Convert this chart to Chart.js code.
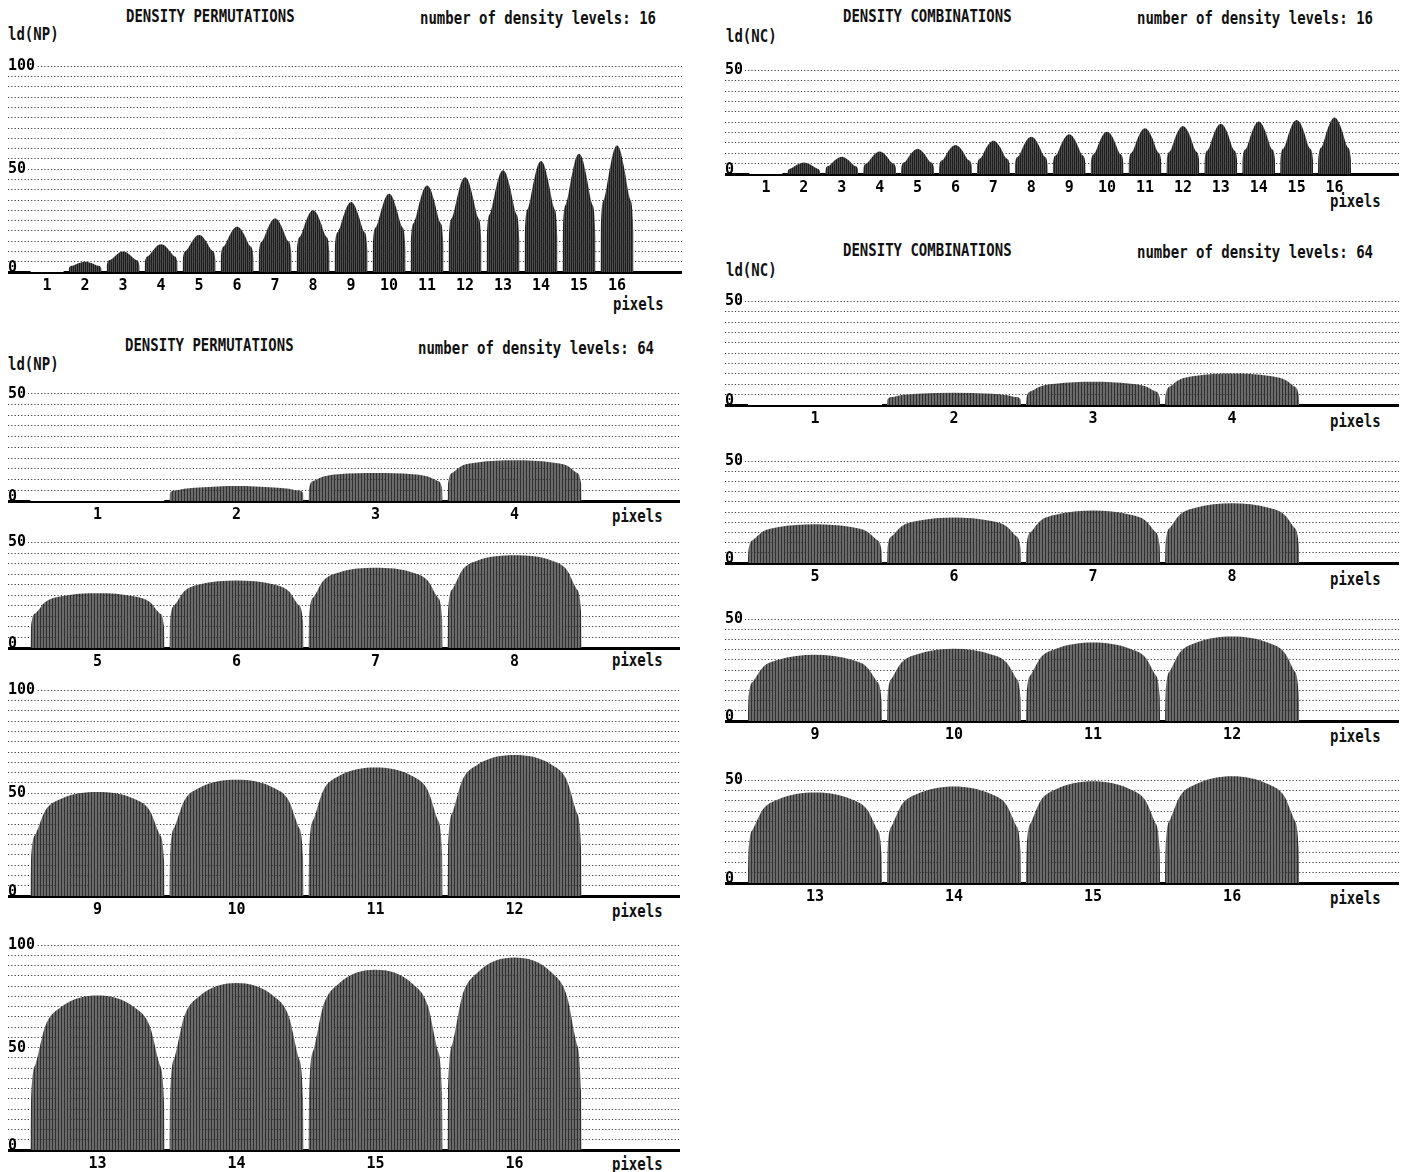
<!DOCTYPE html>
<html>
<head>
<meta charset="utf-8">
<script src="https://cdn.jsdelivr.net/npm/chart.js@4.4.0/dist/chart.umd.min.js"></script>
<style>
  body { margin: 0; background: #fff; width: 1404px; height: 1172px; position: relative; overflow: hidden; }
  .t { position: absolute; font: bold 14px 'DejaVu Sans Mono', monospace; line-height: 16px; white-space: pre; color: #111; transform: scaleY(1.2); }
  canvas { position: absolute; }
</style>
</head>
<body>
<!-- titres -->
<div class="t" style="left:126px;top:8px">DENSITY PERMUTATIONS</div>
<div class="t" style="left:420px;top:10px">number of density levels: 16</div>
<div class="t" style="left:8px;top:26px">ld(NP)</div>
<div class="t" style="left:613px;top:296px">pixels</div>

<div class="t" style="left:843px;top:8px">DENSITY COMBINATIONS</div>
<div class="t" style="left:1137px;top:10px">number of density levels: 16</div>
<div class="t" style="left:726px;top:28px">ld(NC)</div>
<div class="t" style="left:1330px;top:193px">pixels</div>

<div class="t" style="left:125px;top:337px">DENSITY PERMUTATIONS</div>
<div class="t" style="left:418px;top:340px">number of density levels: 64</div>
<div class="t" style="left:8px;top:356px">ld(NP)</div>
<div class="t" style="left:612px;top:508px">pixels</div>
<div class="t" style="left:612px;top:652px">pixels</div>
<div class="t" style="left:612px;top:903px">pixels</div>
<div class="t" style="left:612px;top:1156px">pixels</div>

<div class="t" style="left:843px;top:242px">DENSITY COMBINATIONS</div>
<div class="t" style="left:1137px;top:244px">number of density levels: 64</div>
<div class="t" style="left:726px;top:262px">ld(NC)</div>
<div class="t" style="left:1330px;top:413px">pixels</div>
<div class="t" style="left:1330px;top:571px">pixels</div>
<div class="t" style="left:1330px;top:728px">pixels</div>
<div class="t" style="left:1330px;top:890px">pixels</div>

<script>
// pixels (catégories de l'axe x)
var pixels = [1, 2, 3, 4, 5, 6, 7, 8, 9, 10, 11, 12, 13, 14, 15, 16];
// étiquettes de l'axe y
var yLabels = [0, 50, 100];

// positions relatives des échantillons dans la plage d'un pixel (0 = début, 1 = fin)
var sampleT16 = [0, 0.005, 0.1, 0.29, 0.4, 0.5, 0.6, 0.71, 0.9, 0.995, 1];
var sampleT64 = [0, 0.004, 0.04, 0.11, 0.22, 0.5, 0.78, 0.89, 0.96, 0.996, 1];

// ld(NP), 16 niveaux de densité
var np16 = [
  [0, 0, 0, 0, 0, 0, 0, 0, 0, 0, 0],
  [0, 1.5, 3, 4.3, 4.8, 5, 4.8, 4.3, 3, 1.5, 0],
  [0, 3, 5.8, 8.3, 9.6, 10, 9.6, 8.3, 5.8, 3, 0],
  [0, 4.2, 7.7, 11.2, 13, 13.5, 13, 11.2, 7.7, 4.2, 0],
  [0, 5.6, 10.3, 14.9, 17.3, 18, 17.3, 14.9, 10.3, 5.6, 0],
  [0, 6.8, 12.5, 18.3, 21.1, 22, 21.1, 18.3, 12.5, 6.8, 0],
  [0, 8.1, 14.8, 21.6, 25, 26, 25, 21.6, 14.8, 8.1, 0],
  [0, 9.3, 17.1, 24.9, 28.8, 30, 28.8, 24.9, 17.1, 9.3, 0],
  [0, 10.5, 19.4, 28.2, 32.6, 34, 32.6, 28.2, 19.4, 10.5, 0],
  [0, 11.8, 21.7, 31.5, 36.5, 38, 36.5, 31.5, 21.7, 11.8, 0],
  [0, 13, 23.9, 34.9, 40.3, 42, 40.3, 34.9, 23.9, 13, 0],
  [0, 14.3, 26.2, 38.2, 44.2, 46, 44.2, 38.2, 26.2, 14.3, 0],
  [0, 15.3, 28.2, 41.1, 47.5, 49.5, 47.5, 41.1, 28.2, 15.3, 0],
  [0, 16.7, 30.8, 44.8, 51.8, 54, 51.8, 44.8, 30.8, 16.7, 0],
  [0, 17.8, 32.8, 47.7, 55.2, 57.5, 55.2, 47.7, 32.8, 17.8, 0],
  [0, 19.1, 35.1, 51, 59, 61.5, 59, 51, 35.1, 19.1, 0]
];

// ld(NC), 16 niveaux de densité
var nc16 = [
  [0, 0, 0, 0, 0, 0, 0, 0, 0, 0, 0],
  [0, 1, 2.7, 4.5, 5.2, 5.5, 5.2, 4.5, 2.7, 1, 0],
  [0, 2.1, 3.9, 6.6, 7.9, 8.3, 7.9, 6.6, 3.9, 2.1, 0],
  [0, 2.7, 5.1, 8.6, 10.3, 10.8, 10.3, 8.6, 5.1, 2.7, 0],
  [0, 3, 5.7, 9.7, 11.5, 12.1, 11.5, 9.7, 5.7, 3, 0],
  [0, 3.5, 6.6, 11.2, 13.3, 14, 13.3, 11.2, 6.6, 3.5, 0],
  [0, 4, 7.5, 12.8, 15.2, 16, 15.2, 12.8, 7.5, 4, 0],
  [0, 4.5, 8.5, 14.4, 17.1, 18, 17.1, 14.4, 8.5, 4.5, 0],
  [0, 4.8, 9, 15.4, 18.2, 19.2, 18.2, 15.4, 9, 4.8, 0],
  [0, 5.1, 9.6, 16.3, 19.4, 20.4, 19.4, 16.3, 9.6, 5.1, 0],
  [0, 5.5, 10.4, 17.7, 21, 22.1, 21, 17.7, 10.4, 5.5, 0],
  [0, 5.8, 10.9, 18.6, 22, 23.2, 22, 18.6, 10.9, 5.8, 0],
  [0, 6.1, 11.4, 19.4, 23, 24.2, 23, 19.4, 11.4, 6.1, 0],
  [0, 6.3, 11.9, 20.2, 24, 25.3, 24, 20.2, 11.9, 6.3, 0],
  [0, 6.5, 12.3, 20.9, 24.8, 26.1, 24.8, 20.9, 12.3, 6.5, 0],
  [0, 6.8, 12.8, 21.8, 25.8, 27.2, 25.8, 21.8, 12.8, 6.8, 0]
];

// ld(NP), 64 niveaux de densité
var np64 = [
  [0, 0, 0, 0, 0, 0, 0, 0, 0, 0, 0],
  [0, 3.9, 4.9, 5.7, 6.3, 7, 6.3, 5.7, 4.9, 3.9, 0],
  [0, 5.9, 9.4, 11.4, 12.5, 13, 12.5, 11.4, 9.4, 5.9, 0],
  [0, 8, 13.3, 16.5, 18, 19, 18, 16.5, 13.3, 8, 0],
  [0, 9.9, 16.6, 21.8, 24.4, 26, 24.4, 21.8, 16.6, 9.9, 0],
  [0, 12.2, 20.5, 26.9, 30.1, 32, 30.1, 26.9, 20.5, 12.2, 0],
  [0, 14.4, 24.3, 31.9, 35.7, 38, 35.7, 31.9, 24.3, 14.4, 0],
  [0, 16.7, 28.2, 37, 41.4, 44, 41.4, 37, 28.2, 16.7, 0],
  [0, 16.7, 30.3, 41.4, 47, 50.5, 47, 41.4, 30.3, 16.7, 0],
  [0, 18.6, 33.9, 46.3, 52.5, 56.5, 52.5, 46.3, 33.9, 18.6, 0],
  [0, 20.6, 37.5, 51.3, 58.1, 62.5, 58.1, 51.3, 37.5, 20.6, 0],
  [0, 22.6, 41.1, 56.2, 63.7, 68.5, 63.7, 56.2, 41.1, 22.6, 0],
  [0, 22.7, 42.3, 60.4, 69.5, 75.5, 69.5, 60.4, 42.3, 22.7, 0],
  [0, 24.5, 45.6, 65.2, 75, 81.5, 75, 65.2, 45.6, 24.5, 0],
  [0, 26.4, 49.3, 70.4, 81, 88, 81, 70.4, 49.3, 26.4, 0],
  [0, 28.2, 52.6, 75.2, 86.5, 94, 86.5, 75.2, 52.6, 28.2, 0]
];

// ld(NC), 64 niveaux de densité
var nc64 = [
  [0, 0, 0, 0, 0, 0, 0, 0, 0, 0, 0],
  [0, 2.7, 3.8, 4.8, 5.4, 5.9, 5.4, 4.8, 3.8, 2.7, 0],
  [0, 3.6, 6.7, 9.1, 10.3, 11.2, 10.3, 9.1, 6.7, 3.6, 0],
  [0, 4.9, 9.1, 12.3, 14, 15.2, 14, 12.3, 9.1, 4.9, 0],
  [0, 6.1, 11.4, 15.4, 17.5, 19, 17.5, 15.4, 11.4, 6.1, 0],
  [0, 7.2, 13.4, 18.1, 20.6, 22.4, 20.6, 18.1, 13.4, 7.2, 0],
  [0, 8.3, 15.5, 20.9, 23.7, 25.8, 23.7, 20.9, 15.5, 8.3, 0],
  [0, 9.4, 17.6, 23.7, 27, 29.3, 27, 23.7, 17.6, 9.4, 0],
  [0, 10.4, 19.5, 26.3, 29.9, 32.5, 29.9, 26.3, 19.5, 10.4, 0],
  [0, 11.4, 21.3, 28.8, 32.7, 35.5, 32.7, 28.8, 21.3, 11.4, 0],
  [0, 12.3, 23.1, 31.2, 35.4, 38.5, 35.4, 31.2, 23.1, 12.3, 0],
  [0, 13.3, 24.9, 33.6, 38.2, 41.5, 38.2, 33.6, 24.9, 13.3, 0],
  [0, 14.1, 26.4, 35.6, 40.5, 44, 40.5, 35.6, 26.4, 14.1, 0],
  [0, 15, 28.2, 38.1, 43.2, 47, 43.2, 38.1, 28.2, 15, 0],
  [0, 15.8, 29.7, 40.1, 45.5, 49.5, 45.5, 40.1, 29.7, 15.8, 0],
  [0, 16.6, 31.2, 42.1, 47.8, 52, 47.8, 42.1, 31.2, 16.6, 0]
];

// maximum de la grille y pour chaque sous-graphique à 64 niveaux
var npMax64 = [50, 50, 100, 100];
var ncMax64 = [50, 50, 50, 50];

Chart.defaults.font.family = "'DejaVu Sans Mono', monospace";

// motif de rayures verticales (trame d'imprimante)
function stripes(light, dark, period) {
  var c = document.createElement('canvas');
  c.width = period; c.height = 1;
  var g = c.getContext('2d');
  g.fillStyle = light; g.fillRect(0, 0, period, 1);
  g.fillStyle = dark; g.fillRect(period - 1, 0, 1, 1);
  return g.createPattern(c, 'repeat');
}
var fillDark = stripes('#4c4c4c', '#1e1e1e', 2);
var fillMid = stripes('#6a6a6a', '#303030', 3);

var tickFont = { family: "'DejaVu Sans Mono', monospace", size: 15, weight: 'bold' };

// zones de tracé (gauche, haut = ligne du max de la grille, droite, bas = ligne 0) en pixels de page
var panels = [
  { rows: np16, first: 1, t: sampleT16, span: 0.87, yMax: 100, xMin: -0.03, xMax: 17.71, box: [8, 66, 682, 272], fill: fillDark },
  { rows: nc16, first: 1, t: sampleT16, span: 0.87, yMax: 50, xMin: -0.08, xMax: 17.70, box: [725, 70, 1399, 174], fill: fillDark }
];
var npBoxes = [[8, 394, 680, 501], [8, 542, 680, 647], [8, 690, 680, 896], [8, 945, 680, 1150]];
var ncBoxes = [[725, 301, 1399, 405], [725, 461, 1399, 563], [725, 619, 1399, 721], [725, 780, 1399, 883]];
for (var k = 0; k < 4; k++) {
  panels.push({ rows: np64.slice(4 * k, 4 * k + 4), first: 4 * k + 1, t: sampleT64, span: 0.965, yMax: npMax64[k],
    xMin: 4 * k + 0.356, xMax: 4 * k + 5.19, box: npBoxes[k], fill: fillMid });
  panels.push({ rows: nc64.slice(4 * k, 4 * k + 4), first: 4 * k + 1, t: sampleT64, span: 0.965, yMax: ncMax64[k],
    xMin: 4 * k + 0.353, xMax: 4 * k + 5.20, box: ncBoxes[k], fill: fillMid });
}

function drawPanel(p) {
  var cv = document.createElement('canvas');
  document.body.appendChild(cv);
  // marge au-dessus de la grille pour que les bosses qui dépassent ne soient pas coupées
  var yTop = p.yMax + 5;
  var pxPerUnit = (p.box[3] - p.box[1]) / p.yMax;
  var top = p.box[1] - 5 * pxPerUnit;
  var w = p.box[2] - p.box[0];
  var h = p.box[3] - top;
  cv.width = w + 60;
  cv.height = h + 60;
  var labels = pixels.slice(p.first - 1, p.first - 1 + p.rows.length);

  var datasets = [];
  p.rows.forEach(function (vals, i) {
    var n = p.first + i;
    var pts = vals.map(function (v, j) {
      return { x: n + (p.t[j] - 0.5) * p.span, y: v };
    });
    if (n === 1) {
      // un seul pixel : ligne plate grise à zéro, sans la ligne de base noire
      datasets.push({ data: pts, borderColor: '#fff', borderWidth: 4, fill: false, pointRadius: 0 });
      datasets.push({ data: pts, borderColor: '#8a8a8a', borderWidth: 1.5, borderDash: [3, 1], fill: false, pointRadius: 0 });
      return;
    }
    datasets.push({
      data: pts,
      borderColor: 'rgba(0,0,0,0)',
      borderWidth: 1,
      backgroundColor: p.fill,
      fill: 'origin',
      pointRadius: 0,
      cubicInterpolationMode: 'monotone'
    });
  });

  var chart = new Chart(cv, {
    type: 'line',
    data: { datasets: datasets },
    options: {
      responsive: false,
      maintainAspectRatio: false,
      animation: false,
      devicePixelRatio: 1,
      events: [],
      layout: { padding: 0, autoPadding: false },
      plugins: { legend: { display: false }, tooltip: { enabled: false } },
      scales: {
        x: {
          type: 'linear',
          min: p.xMin,
          max: p.xMax,
          afterBuildTicks: function (axis) {
            axis.ticks = labels.map(function (v) { return { value: v }; });
          },
          ticks: {
            autoSkip: false, maxRotation: 0, padding: 5, color: '#000', font: tickFont,
            callback: function (v) { return String(v); }
          },
          grid: { display: false, drawTicks: false },
          border: { display: true, color: '#000', width: 3, z: 0 }
        },
        y: {
          type: 'linear',
          min: 0,
          max: yTop,
          ticks: {
            stepSize: 5, maxTicksLimit: 101, autoSkip: false, mirror: true, padding: 0, z: 2,
            color: '#000',
            // le "0" est posé sur la ligne de base (deux lignes serrées pour le remonter)
            font: function (ctx) {
              var v = ctx.tick && ctx.tick.value;
              return { family: tickFont.family, size: 15, weight: 'bold', lineHeight: v === 0 ? 0.55 : 1.2 };
            },
            callback: function (v) {
              if (v === 0) return ['0', ''];
              return yLabels.indexOf(v) >= 0 && v <= p.yMax ? String(v) : '';
            },
            showLabelBackdrop: true,
            backdropColor: function (ctx) {
              var v = ctx.tick && ctx.tick.value;
              return yLabels.indexOf(v) >= 0 && v > 0 && v <= p.yMax ? '#fff' : 'rgba(0,0,0,0)';
            },
            backdropPadding: { left: 0, right: 2, top: 0, bottom: 0 }
          },
          grid: {
            color: function (ctx) {
              var v = ctx.tick && ctx.tick.value;
              return v === 0 || v > p.yMax ? 'rgba(0,0,0,0)' : '#3a3a3a';
            },
            lineWidth: 1, drawTicks: false, z: 1
          },
          border: { display: false, dash: [1.2, 2.1] }
        }
      }
    }
  });

  // ajuster la taille du canvas pour que la zone de tracé tombe sur la boîte voulue
  var a = chart.chartArea;
  var padL = a.left, padT = a.top, padR = chart.width - a.right, padB = chart.height - a.bottom;
  chart.resize(Math.round(w + padL + padR), Math.round(h + padT + padB));
  a = chart.chartArea;
  cv.style.left = (p.box[0] - a.left) + 'px';
  cv.style.top = (top - a.top) + 'px';
}

panels.forEach(drawPanel);
</script>
</body>
</html>
